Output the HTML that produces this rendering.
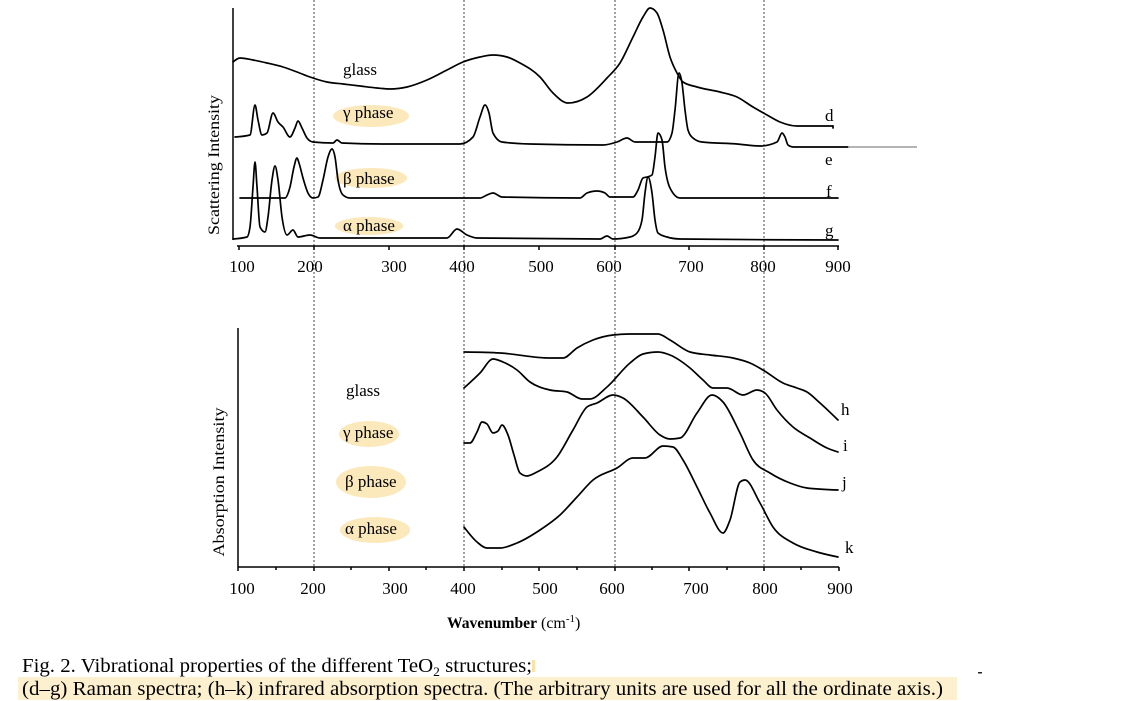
<!DOCTYPE html>
<html><head><meta charset="utf-8"><style>
html,body{margin:0;padding:0;background:#fff;}
svg{display:block;}
text{font-family:"Liberation Serif","DejaVu Serif",serif;fill:#000;}
</style></head><body>
<svg width="1129" height="701" viewBox="0 0 1129 701" xmlns="http://www.w3.org/2000/svg">
<rect width="1129" height="701" fill="#fff"/>
<!-- dotted guide lines -->
<g stroke="#444" stroke-width="1" stroke-dasharray="2,2">
<line x1="314" y1="0" x2="314" y2="567"/>
<line x1="464" y1="0" x2="464" y2="567"/>
<line x1="615" y1="0" x2="615" y2="567"/>
<line x1="764" y1="0" x2="764" y2="567"/>
</g>
<!-- highlight ellipses -->
<g fill="#fbe8bb">
<ellipse cx="371" cy="116" rx="38" ry="11"/>
<ellipse cx="371" cy="178" rx="36" ry="10"/>
<ellipse cx="369" cy="226" rx="34" ry="9"/>
<ellipse cx="369" cy="434" rx="30" ry="13"/>
<ellipse cx="371" cy="482" rx="35" ry="16"/>
<ellipse cx="375" cy="530" rx="35" ry="13"/>
</g>
<!-- caption highlight -->
<rect x="18" y="677" width="939" height="23" fill="#fdf0cf"/>
<rect x="532" y="660" width="3" height="12" fill="#fbe2a8"/>
<rect x="978" y="672" width="4" height="1.5" fill="#222"/>

<!-- TOP CHART axes -->
<g stroke="#000" stroke-width="1.5" fill="none">
<line x1="233" y1="8" x2="233" y2="240"/>
<line x1="237" y1="246" x2="839" y2="246"/>
<line x1="239" y1="246" x2="239" y2="250"/>
<line x1="314" y1="246" x2="314" y2="250"/>
<line x1="389" y1="246" x2="389" y2="250"/>
<line x1="464" y1="246" x2="464" y2="250"/>
<line x1="539" y1="246" x2="539" y2="250"/>
<line x1="615" y1="246" x2="615" y2="250"/>
<line x1="689" y1="246" x2="689" y2="250"/>
<line x1="764" y1="246" x2="764" y2="250"/>
<line x1="838" y1="246" x2="838" y2="250"/>
</g>
<g font-size="17" text-anchor="middle">
<text x="242" y="272">100</text>
<text x="310" y="272">200</text>
<text x="394" y="272">300</text>
<text x="462" y="272">400</text>
<text x="541" y="272">500</text>
<text x="609" y="272">600</text>
<text x="691" y="272">700</text>
<text x="763" y="272">800</text>
<text x="838" y="272">900</text>
</g>
<text x="0" y="0" font-size="16" text-anchor="middle" textLength="140" lengthAdjust="spacingAndGlyphs" transform="translate(219,165) rotate(-90)">Scattering  Intensity</text>

<!-- top curves -->
<g stroke="#000" stroke-width="1.7" fill="none" stroke-linejoin="round" stroke-linecap="round">
<path class="sm" d="M233,62 L240,58 L253,60 L267,63 L283,67 L297,72 L310,77 L327,82 L343,84 L360,86 L377,88 L390,89 L407,87 L427,80 L447,70 L463,62 L480,57 L493,55 L507,57 L520,63 L540,77 L553,93 L568,103 L587,97 L607,78 L620,63 L633,37 L643,17 L650,8 L657,13 L663,30 L670,57 L677,73 L683,82 L697,87 L720,92 L737,97 L753,107 L767,115 L780,122 L797,126 L833,126"/>
<line x1="833" y1="126" x2="833" y2="128"/>
<path class="sm" d="M235,137 L250,135 L255,105 L258,120 L262,135 L267,133 L273,113 L278,122 L283,127 L290,137 L295,128 L298,121 L302,128 L307,138 L313,142 L333,143 L337,140 L342,143 L383,144 L460,144 L473,137 L480,117 L485,105 L489,113 L493,133 L502,142 L530,144 L603,145 L617,142 L627,138 L635,142 L667,142 L672,133 L675,110 L679,73 L682,83 L685,110 L688,130 L693,138 L702,142 L737,144 L760,146 L777,142 L782,133 L785,137 L788,145 L793,147 L848,147"/>
<path class="sm" d="M240,198 L285,198 L290,187 L294,167 L297,158 L299,163 L303,178 L308,193 L313,198 L318,197 L323,180 L328,157 L332,149 L335,157 L338,180 L343,195 L350,198 L480,198 L487,195 L493,193 L502,197 L580,198 L587,193 L597,191 L605,193 L610,197 L633,197 L638,190 L643,178 L647,177 L652,175 L655,157 L658,133 L662,140 L665,167 L670,188 L680,198 L838,198"/>
<path class="sm" d="M233,239 L247,237 L250,227 L253,187 L255,162 L257,187 L260,227 L265,232 L268,217 L272,180 L275,166 L278,180 L282,217 L287,235 L293,230 L298,237 L310,235 L320,238 L447,238 L457,229 L467,235 L477,238 L600,239 L607,236 L613,239 L630,237 L637,233 L642,220 L645,193 L648,177 L652,193 L655,220 L658,233 L667,237 L680,239 L838,240"/>
</g>
<line x1="848" y1="147" x2="917" y2="147" stroke="#888" stroke-width="1.2"/>
<g font-size="17">
<text x="343" y="75">glass</text>
<text x="343" y="118">γ phase</text>
<text x="343" y="184">β phase</text>
<text x="343" y="231">α phase</text>
<text x="825" y="121">d</text>
<text x="825" y="165">e</text>
<text x="826" y="197">f</text>
<text x="825" y="236">g</text>
</g>

<!-- BOTTOM CHART axes -->
<g stroke="#000" stroke-width="1.5" fill="none">
<line x1="238" y1="328" x2="238" y2="567"/>
<line x1="238" y1="567" x2="839" y2="567"/>
<line x1="238" y1="567" x2="238" y2="571"/>
<line x1="276" y1="567" x2="276" y2="570"/>
<line x1="314" y1="567" x2="314" y2="571"/>
<line x1="351" y1="567" x2="351" y2="570"/>
<line x1="389" y1="567" x2="389" y2="571"/>
<line x1="426" y1="567" x2="426" y2="570"/>
<line x1="464" y1="567" x2="464" y2="571"/>
<line x1="502" y1="567" x2="502" y2="570"/>
<line x1="539" y1="567" x2="539" y2="571"/>
<line x1="577" y1="567" x2="577" y2="570"/>
<line x1="615" y1="567" x2="615" y2="571"/>
<line x1="652" y1="567" x2="652" y2="570"/>
<line x1="689" y1="567" x2="689" y2="571"/>
<line x1="727" y1="567" x2="727" y2="570"/>
<line x1="764" y1="567" x2="764" y2="571"/>
<line x1="801" y1="567" x2="801" y2="570"/>
<line x1="839" y1="567" x2="839" y2="571"/>
</g>
<g font-size="17" text-anchor="middle">
<text x="242" y="594">100</text>
<text x="313" y="594">200</text>
<text x="395" y="594">300</text>
<text x="463" y="594">400</text>
<text x="545" y="594">500</text>
<text x="612" y="594">600</text>
<text x="696" y="594">700</text>
<text x="765" y="594">800</text>
<text x="840" y="594">900</text>
</g>
<text x="0" y="0" font-size="16" text-anchor="middle" textLength="149" lengthAdjust="spacingAndGlyphs" transform="translate(224,482) rotate(-90)">Absorption  Intensity</text>
<text x="447" y="628" font-size="16" font-weight="bold" textLength="90" lengthAdjust="spacingAndGlyphs">Wavenumber</text>
<text x="541" y="628" font-size="16">(cm<tspan dy="-6" font-size="11">-1</tspan><tspan dy="6">)</tspan></text>

<!-- bottom curves -->
<g stroke="#000" stroke-width="1.7" fill="none" stroke-linejoin="round" stroke-linecap="round">
<path class="sm" d="M464,352 L500,353 L550,358 L563,358 L577,348 L593,340 L613,335 L630,334 L658,334 L670,340 L690,352 L710,355 L733,358 L750,363 L763,370 L783,383 L797,388 L807,392 L820,403 L838,420"/>
<path class="sm" d="M464,388 L480,373 L493,359 L503,362 L517,370 L530,382 L550,390 L567,392 L582,399 L590,399 L607,387 L630,363 L643,354 L658,352 L670,355 L690,368 L703,380 L713,388 L727,388 L743,395 L757,390 L765,393 L777,410 L793,427 L810,438 L827,448 L838,452"/>
<path class="sm" d="M464,443 L470,443 L477,432 L482,422 L487,424 L493,433 L498,431 L502,425 L508,435 L514,455 L520,473 L527,476 L537,472 L557,457 L573,430 L587,407 L597,403 L613,395 L623,398 L643,417 L660,435 L670,439 L680,438 L697,413 L712,395 L723,402 L740,433 L753,460 L770,473 L790,483 L807,488 L838,490"/>
<path class="sm" d="M464,527 L477,542 L487,548 L500,548 L517,543 L540,530 L560,515 L577,497 L593,480 L617,468 L633,458 L645,458 L663,446 L673,447 L683,460 L697,487 L710,513 L723,533 L730,520 L740,482 L745,480 L760,503 L773,527 L793,543 L817,552 L838,557"/>
</g>
<g font-size="17">
<text x="346" y="396">glass</text>
<text x="343" y="438">γ phase</text>
<text x="345" y="487">β phase</text>
<text x="345" y="534">α phase</text>
<text x="841" y="415">h</text>
<text x="843" y="451">i</text>
<text x="842" y="488">j</text>
<text x="845" y="553">k</text>
</g>

<!-- caption -->
<text x="22" y="672" font-size="20" textLength="510" lengthAdjust="spacingAndGlyphs">Fig.  2. Vibrational properties of the different TeO<tspan dy="4" font-size="13">2</tspan><tspan dy="-4"> structures;</tspan></text>
<text x="22" y="695" font-size="20" textLength="921" lengthAdjust="spacingAndGlyphs">(d–g) Raman spectra; (h–k) infrared absorption spectra. (The arbitrary units are used for all the ordinate axis.)</text>
</svg>
<script>
(function(){
  function sign(v){return v<0?-1:1;}
  var ps=document.querySelectorAll('path.sm');
  for(var i=0;i<ps.length;i++){
    var d=ps[i].getAttribute('d');
    var nums=d.replace(/[ML]/g,' ').trim().split(/[\s,]+/).map(Number);
    var p=[];for(var k=0;k+1<nums.length;k+=2)p.push([nums[k],nums[k+1]]);
    var n=p.length; if(n<3)continue;
    var ok=true;for(var k=1;k<n;k++){if(p[k][0]<=p[k-1][0]){ok=false;break;}}
    if(!ok)continue;
    var m=new Array(n);
    for(var j=1;j<n-1;j++){
      var h0=p[j][0]-p[j-1][0],h1=p[j+1][0]-p[j][0];
      var s0=(p[j][1]-p[j-1][1])/h0,s1=(p[j+1][1]-p[j][1])/h1;
      var pp=(s0*h1+s1*h0)/(h0+h1);
      m[j]=(sign(s0)+sign(s1))*Math.min(Math.abs(s0),Math.abs(s1),0.5*Math.abs(pp))||0;
    }
    var hA=p[1][0]-p[0][0];m[0]=(3*(p[1][1]-p[0][1])/hA-m[1])/2;
    var hB=p[n-1][0]-p[n-2][0];m[n-1]=(3*(p[n-1][1]-p[n-2][1])/hB-m[n-2])/2;
    var s='M'+p[0][0]+','+p[0][1];
    for(var j=0;j<n-1;j++){
      var dx=(p[j+1][0]-p[j][0])/3;
      s+=' C'+(p[j][0]+dx).toFixed(2)+','+(p[j][1]+dx*m[j]).toFixed(2)+' '+(p[j+1][0]-dx).toFixed(2)+','+(p[j+1][1]-dx*m[j+1]).toFixed(2)+' '+p[j+1][0]+','+p[j+1][1];
    }
    ps[i].setAttribute('d',s);
  }
})();
</script>
</body></html>
